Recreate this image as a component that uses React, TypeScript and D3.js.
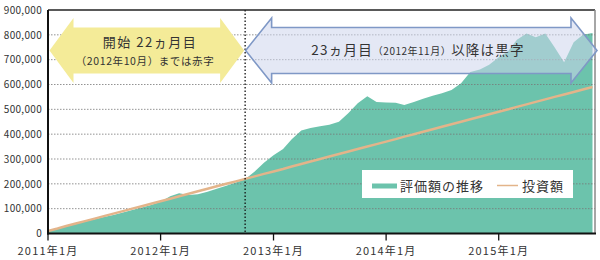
import React from "react";
import * as d3 from "d3";

const startYear = 2011;
// monthly values from 2011-01 to 2015-11 (thousands of yen)
const valuation = [
  10, 18, 28, 38, 48, 57, 66, 75, 85, 95, 105, 115, 128, 150, 162, 155, 158, 168, 180, 192, 205, 218,
  250, 285, 315, 340, 380, 415, 425, 432, 438, 450, 485, 525, 553, 530, 528, 527, 517, 530, 543, 555,
  565, 578, 605, 650, 660, 680, 710, 735, 780, 805, 790, 805, 750, 690, 770, 800, 807,
];
const investment = [
  10, 20, 30, 40, 50, 60, 70, 80, 90, 100, 110, 120, 130, 140, 150, 160, 170, 180, 190, 200, 210, 220,
  230, 240, 250, 260, 270, 280, 290, 300, 310, 320, 330, 340, 350, 360, 370, 380, 390, 400, 410, 420,
  430, 440, 450, 460, 470, 480, 490, 500, 510, 520, 530, 540, 550, 560, 570, 580, 590,
];
const yTicks = [0, 100000, 200000, 300000, 400000, 500000, 600000, 700000, 800000, 900000];
const xTickLabels = ["2011年1月", "2012年1月", "2013年1月", "2014年1月", "2015年1月"];
const xTickYears = [2011, 2012, 2013, 2014, 2015];
const breakEvenMonth = new Date(2012, 9, 1);
const legendLabels = ["評価額の推移", "投資額"];

const TEAL = "#6cc3ac";
const ORANGE = "#e3b48a";
const FONT = "'Noto Sans CJK JP', 'Noto Sans', sans-serif";

export default function App() {
  const W = 600, H = 260;
  const left = 48, right = 595, top = 10, bottom = 233.5;
  const dates = valuation.map((_, i) => new Date(startYear, i, 1));
  const x = d3.scaleTime().domain([dates[0], dates[dates.length - 1]]).range([left, 592.5]);
  const y = d3.scaleLinear().domain([0, 900000]).range([bottom, top]);

  const area = d3
    .area<number>()
    .x((_, i) => x(dates[i]))
    .y0(y(0))
    .y1((d) => y(d * 1000));
  const line = d3
    .line<number>()
    .x((_, i) => x(dates[i]))
    .y((d) => y(d * 1000));

  const xb = x(breakEvenMonth);
  const cy = y(737000);
  const yl = left + 1.5, yr = xb - 1;
  const shaftH = 23, headH = 32.5, headW = 24;
  const arrowPath = (a: number, b: number, hw: number) =>
    `M${a},${cy} L${a + hw},${cy - headH} L${a + hw},${cy - shaftH} L${b - hw},${cy - shaftH} L${b - hw},${cy - headH} L${b},${cy} L${b - hw},${cy + headH} L${b - hw},${cy + shaftH} L${a + hw},${cy + shaftH} L${a + hw},${cy + headH} Z`;
  const bl = xb + 0.5, br = 597;

  return (
    <svg
      width={W}
      height={H}
      style={{ position: "absolute", left: 0, top: 0, background: "#fff" }}
      fontFamily={FONT}
    >
      <rect width={W} height={H} fill="#fff" />
      <path d={area(valuation) || ""} fill={TEAL} />
      {yTicks.slice(1, -1).map((t) => (
        <line
          key={t}
          x1={left}
          x2={right}
          y1={y(t)}
          y2={y(t)}
          stroke="#777"
          strokeWidth={0.8}
          strokeDasharray="1.5,1.5"
        />
      ))}
      <path d={line(investment) || ""} fill="none" stroke={ORANGE} strokeWidth={2.5} />
      <line x1={xb} x2={xb} y1={top} y2={bottom} stroke="#111" strokeWidth={1.3} strokeDasharray="1.5,2" />
      <line x1={left} x2={right} y1={top} y2={top} stroke="#222" strokeWidth={1.3} />
      <line x1={right} x2={right} y1={top} y2={bottom} stroke="#888" strokeWidth={1.5} />
      <line x1={left} x2={left} y1={top} y2={bottom + 1} stroke="#111" strokeWidth={2} />
      <line x1={left - 1} x2={right + 1} y1={bottom} y2={bottom} stroke="#111" strokeWidth={2} />
      {xTickYears.map((yr, i) => (
        <g key={yr} transform={`translate(${x(new Date(yr, 0, 1))},0)`}>
          <line y1={bottom} y2={bottom + 7} stroke="#111" strokeWidth={1.3} />
          <text y={255} textAnchor="middle" fontSize={11} letterSpacing={1.2} fill="#333">
            {xTickLabels[i]}
          </text>
        </g>
      ))}
      {yTicks.map((t) => (
        <text key={t} x={42} y={y(t) + 3.8} textAnchor="end" fontSize={10} letterSpacing={0.3} fill="#333">
          {d3.format(",")(t)}
        </text>
      ))}
      <path d={arrowPath(yl, yr, headW)} fill="#f4eb98" />
      <text x={150} y={47} textAnchor="middle" fontSize={13} letterSpacing={1.5} fill="#333">
        開始 22ヵ月目
      </text>
      <text x={145} y={65} textAnchor="middle" fontSize={10.5} letterSpacing={0.6} fill="#333">
        （2012年10月）までは赤字
      </text>
      <path
        d={arrowPath(bl, br, 26)}
        fill="rgb(205,214,236)"
        fillOpacity={0.55}
        stroke="#7f98c6"
        strokeWidth={1.6}
      />
      <text x={418} y={55} textAnchor="middle" fontSize={13.5} letterSpacing={1.2} fill="#333">
        23ヵ月目
        <tspan fontSize={10} letterSpacing={0.5}>（2012年11月）</tspan>
        以降は黒字
      </text>
      <rect x={362} y={170} width={211} height={28} fill="#fff" />
      <rect x={372} y={183.5} width={25} height={5} fill={TEAL} />
      <text x={400} y={190.5} fontSize={13} letterSpacing={1} fill="#333">
        {legendLabels[0]}
      </text>
      <line x1={497} x2={518} y1={185.5} y2={185.5} stroke={ORANGE} strokeWidth={1.5} />
      <text x={522} y={190.5} fontSize={13} letterSpacing={1} fill="#333">
        {legendLabels[1]}
      </text>
    </svg>
  );
}
